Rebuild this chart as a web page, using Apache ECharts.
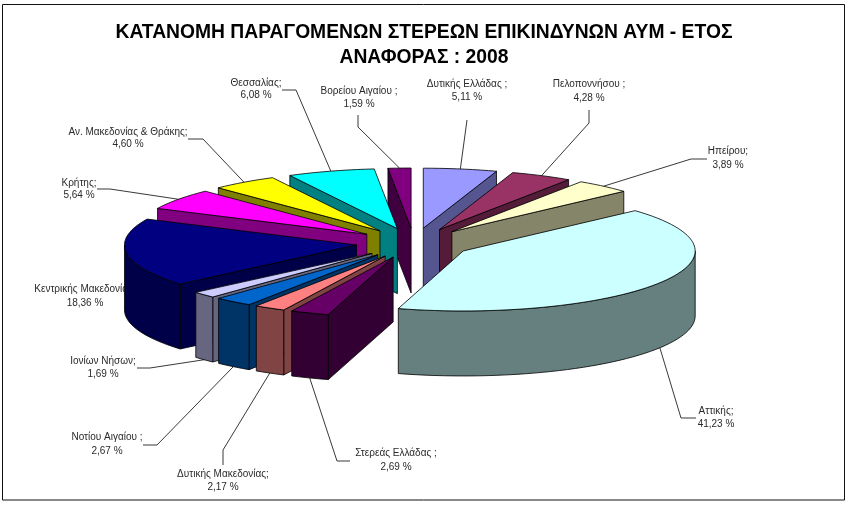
<!DOCTYPE html>
<html><head><meta charset="utf-8">
<style>html,body{margin:0;padding:0;background:#fff}#c{width:848px;height:505px}</style>
<script src="https://cdn.jsdelivr.net/npm/echarts@6/dist/echarts.min.js"></script>
</head><body><div id="c"></div>
<script>
const titleText = 'ΚΑΤΑΝΟΜΗ ΠΑΡΑΓΟΜΕΝΩΝ ΣΤΕΡΕΩΝ ΕΠΙΚΙΝΔΥΝΩΝ ΑΥΜ - ΕΤΟΣ\nΑΝΑΦΟΡΑΣ : 2008';
const regions = ['Δυτικής Ελλάδας ;','Πελοποννήσου ;','Ηπείρου;','Αττικής;','Στερεάς Ελλάδας ;','Δυτικής Μακεδονίας;','Νοτίου Αιγαίου ;','Ιονίων Νήσων;','Κεντρικής Μακεδονίας;','Κρήτης;','Αν. Μακεδονίας & Θράκης;','Θεσσαλίας;','Βορείου Αιγαίου ;'];
const shares = [5.11,4.28,3.89,41.23,2.69,2.17,2.67,1.69,18.36,5.64,4.60,6.08,1.59];
const shareLabels = ['5,11 %','4,28 %','3,89 %','41,23 %','2,69 %','2,17 %','2,67 %','1,69 %','18,36 %','5,64 %','4,60 %','6,08 %','1,59 %'];

// Styles and layout (not data)
const topColors = ['#9999FF','#993366','#FFFFCC','#CCFFFF','#660066','#FF8080','#0066CC','#CCCCFF','#000080','#FF00FF','#FFFF00','#00FFFF','#800080'];
const wallColors = ['#55558F','#551C39','#858569','#667F7F','#330033','#804444','#003366','#666680','#000048','#800080','#808000','#008080','#400040'];
const paintOrder = [0,1,2,12,11,10,9,8,3,7,6,5,4];
const geo = {cx:414, cy:243, rx:232, ry:60, explode:0.25, depth:65};
// label centre [x, y of name line, y of value line], and leader elbow points
const labelLayout = [
 {x:467,y1:84,y2:97,elbow:[[467,120]]},
 {x:589,y1:84,y2:98,elbow:[[589,110],[589,123]]},
 {x:728,y1:151,y2:165,elbow:[[707,159],[691,159]]},
 {x:716,y1:411,y2:424,elbow:[[696,418],[681,418]]},
 {x:396,y1:453,y2:467,elbow:[[350,461],[337,461]]},
 {x:223,y1:474,y2:487,elbow:[[223,465],[223,450]]},
 {x:107,y1:437,y2:451,elbow:[[143,445],[157,445]]},
 {x:103,y1:361,y2:374,elbow:[[137,368],[150,368]]},
 {x:85,y1:289,y2:303,elbow:null},
 {x:79,y1:183,y2:195,elbow:[[97,189],[110,189]]},
 {x:128,y1:132,y2:144,elbow:[[188,139],[203,139]]},
 {x:256,y1:83,y2:95,elbow:[[282,90],[296,90]]},
 {x:359,y1:91,y2:104,elbow:[[358,115],[358,127]]}
];

const total = shares.reduce((a,b)=>a+b,0);
let acc = 0;
const slices = shares.map(v=>{
  const a0 = acc/total*2*Math.PI; acc += v;
  const a1 = acc/total*2*Math.PI;
  const mid = (a0+a1)/2;
  return {a0,a1,mid,ax:geo.cx+geo.explode*geo.rx*Math.sin(mid),ay:geo.cy-geo.explode*geo.ry*Math.cos(mid)};
});
const pt = (s,a)=>[s.ax+geo.rx*Math.sin(a), s.ay-geo.ry*Math.cos(a)];
const arc = (s,a0,a1)=>{const n=Math.max(2,Math.ceil((a1-a0)/0.04));const r=[];for(let i=0;i<=n;i++)r.push(pt(s,a0+(a1-a0)*i/n));return r;};
const down = p=>[p[0],p[1]+geo.depth];
const edge = {stroke:'#000',lineWidth:0.8,lineJoin:'round'};

function sliceItem(params){
  const idx = paintOrder[params.dataIndex], s = slices[idx];
  const wall = pts=>({type:'polygon',shape:{points:pts},style:Object.assign({fill:wallColors[idx]},edge)});
  const kids = [];
  const apex=[s.ax,s.ay];
  if(Math.sin(s.a0)<-1e-6){const e=pt(s,s.a0);kids.push(wall([apex,e,down(e),down(apex)]));}
  if(Math.sin(s.a1)>1e-6){const e=pt(s,s.a1);kids.push(wall([apex,e,down(e),down(apex)]));}
  const f0=Math.max(s.a0,Math.PI/2), f1=Math.min(s.a1,Math.PI*1.5);
  if(f1>f0){const t=arc(s,f0,f1);kids.push(wall(t.concat(t.slice().reverse().map(down))));}
  kids.push({type:'polygon',shape:{points:[apex].concat(arc(s,s.a0,s.a1))},style:Object.assign({fill:topColors[idx]},edge)});
  return {type:'group',children:kids};
}
function labelItem(params){
  const i=params.dataIndex, s=slices[i], L=labelLayout[i], kids=[];
  if(L.elbow){
    let end=pt(s,s.mid);
    if(Math.cos(s.mid)<-0.3) end=down(end);
    kids.push({type:'polyline',shape:{points:L.elbow.concat([end])},style:{fill:null,stroke:'#222',lineWidth:0.9}});
  }
  const txt=(t,y)=>({type:'text',x:L.x,y:y,style:{text:t,fill:'#2a2a2a',font:'10px "Liberation Sans"',textAlign:'center',textVerticalAlign:'middle'}});
  kids.push(txt(regions[i],L.y1),txt(shareLabels[i],L.y2));
  return {type:'group',children:kids};
}
const chart = echarts.init(document.getElementById('c'),null,{renderer:'canvas'});
chart.setOption({
  animation:false,
  backgroundColor:'#fff',
  title:{text:titleText,left:424,top:20,padding:0,textAlign:'center',textStyle:{fontFamily:'Liberation Sans',fontWeight:'bold',fontSize:19.3,lineHeight:25,color:'#000'}},
  graphic:[{type:'rect',shape:{x:2.5,y:4.5,width:842,height:495.5},style:{fill:null,stroke:'#111',lineWidth:1}}],
  series:[
   {type:'custom',coordinateSystem:'none',z:1,silent:true,renderItem:labelItem,data:regions.map((n,i)=>({name:n,value:shares[i]}))},
   {type:'custom',coordinateSystem:'none',z:2,silent:true,renderItem:sliceItem,data:paintOrder.map(i=>({name:regions[i],value:shares[i]}))}
  ]
});
</script></body></html>
